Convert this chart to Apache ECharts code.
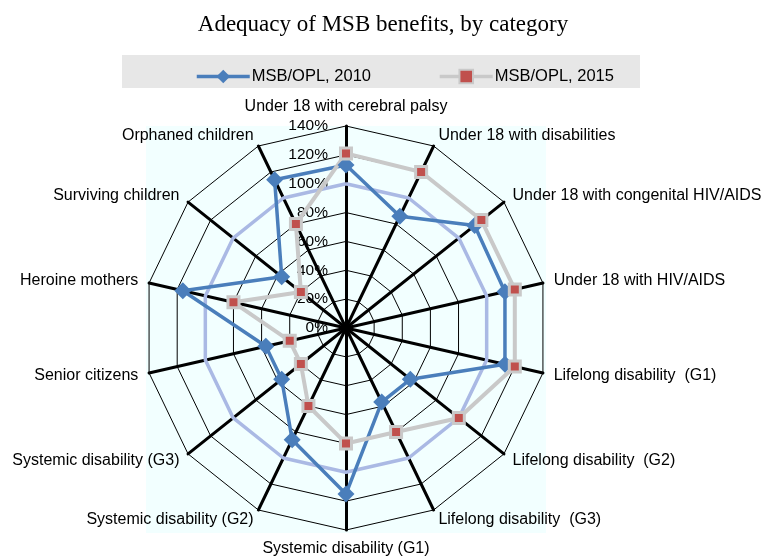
<!DOCTYPE html>
<html><head><meta charset="utf-8">
<script src="https://cdn.jsdelivr.net/npm/echarts@6/dist/echarts.min.js"></script>
<style>html,body{margin:0;padding:0;background:#fff}#c{width:766px;height:560px}</style>
</head><body><div id="c"></div>
<script>
const categories = [
  "Under 18 with cerebral palsy",
  "Under 18 with disabilities",
  "Under 18 with congenital HIV/AIDS",
  "Under 18 with HIV/AIDS",
  "Lifelong disability  (G1)",
  "Lifelong disability  (G2)",
  "Lifelong disability  (G3)",
  "Systemic disability (G1)",
  "Systemic disability (G2)",
  "Systemic disability (G3)",
  "Senior citizens",
  "Heroine mothers",
  "Surviving children",
  "Orphaned children"
];
const msb2010 = [113, 86, 114, 113, 113, 57, 57, 115, 86, 57, 57, 116, 57, 114];
const msb2015 = [121, 120, 120, 120, 120, 100, 80, 80, 60, 40, 40, 80, 40, 80];
const line100 = [100, 100, 100, 100, 100, 100, 100, 100, 100, 100, 100, 100, 100, 100];
const axisMin = 0, axisMax = 140, axisStep = 20;
const seriesNames = ["MSB/OPL, 2010", "MSB/OPL, 2015"];

const F = "'Liberation Sans', Arial, sans-serif";
const BLUE = '#4A7EBB', GRAY = '#C9C9C9', RED = '#C0504D', LIGHT = '#AAB9E4';

// ECharts lays radar indicators counter-clockwise; reorder for clockwise layout
const order = [0].concat(categories.map((c, i) => i).slice(1).reverse());
const reorder = arr => order.map(i => arr[i]);

const indicators = order.map((i, k) => {
  const o = { name: categories[i], min: axisMin, max: axisMax };
  if (k === 0) o.axisLabel = { show: true };
  return o;
});

const cx = 346, cy = 328, R = 202;
const chart = echarts.init(document.getElementById('c'));
chart.setOption({
  animation: false,
  backgroundColor: '#fff',
  title: {
    text: 'Adequacy of MSB benefits, by category',
    left: 'center', top: 8,
    textStyle: { fontFamily: "'Liberation Serif', 'Times New Roman', serif", fontSize: 23, fontWeight: 'normal', color: '#000' }
  },
  graphic: [{
    type: 'rect', z: -10, silent: true,
    shape: { x: 122, y: 55, width: 518, height: 33 },
    style: { fill: '#E7E7E7' }
  }],
  legend: {
    data: seriesNames,
    left: 190, top: 63,
    itemWidth: 53, itemHeight: 17, itemGap: 67,
    lineStyle: { width: 3.5 },
    textStyle: { fontFamily: F, fontSize: 16.5, color: '#000', padding: [0, 0, 0, -3] }
  },
  grid: {
    show: true, left: cx - R * 0.99, top: cy - R, width: R * 1.98, height: R * 2 + 3,
    backgroundColor: '#F2FFFF', borderWidth: 0, z: -5
  },
  xAxis: { type: 'category', show: false, data: [] },
  yAxis: { type: 'value', show: false },
  radar: {
    center: [cx, cy], radius: R, startAngle: 90, shape: 'polygon',
    splitNumber: (axisMax - axisMin) / axisStep,
    indicator: indicators,
    nameGap: 11,
    axisName: { color: '#000', fontFamily: F, fontSize: 16 },
    axisLine: { lineStyle: { color: '#000', width: 3 } },
    splitLine: { lineStyle: { color: '#000', width: 1 } },
    splitArea: { show: false },
    axisTick: { show: false },
    axisLabel: { show: false, formatter: '{value}%', color: '#000', fontFamily: F, fontSize: 15.5, margin: 18 }
  },
  series: [
    { type: 'line', name: seriesNames[0], data: [], symbol: 'diamond', symbolSize: 17,
      itemStyle: { color: BLUE }, lineStyle: { color: BLUE, width: 3.5 } },
    { type: 'line', name: seriesNames[1], data: [], symbol: 'rect', symbolSize: 11,
      itemStyle: { color: RED, borderColor: GRAY, borderWidth: 3 }, lineStyle: { color: GRAY, width: 3.5 } },
    {
      type: 'radar', z: 3,
      data: [
        { name: '100%', value: reorder(line100), symbol: 'none', lineStyle: { color: LIGHT, width: 3.5 } },
        { name: seriesNames[0], value: reorder(msb2010), symbol: 'diamond', symbolSize: 17,
          itemStyle: { color: BLUE }, lineStyle: { color: BLUE, width: 3.5 } },
        { name: seriesNames[1], value: reorder(msb2015), symbol: 'rect', symbolSize: 11,
          itemStyle: { color: RED, borderColor: GRAY, borderWidth: 3 }, lineStyle: { color: GRAY, width: 4 } }
      ]
    }
  ]
});
</script></body></html>
